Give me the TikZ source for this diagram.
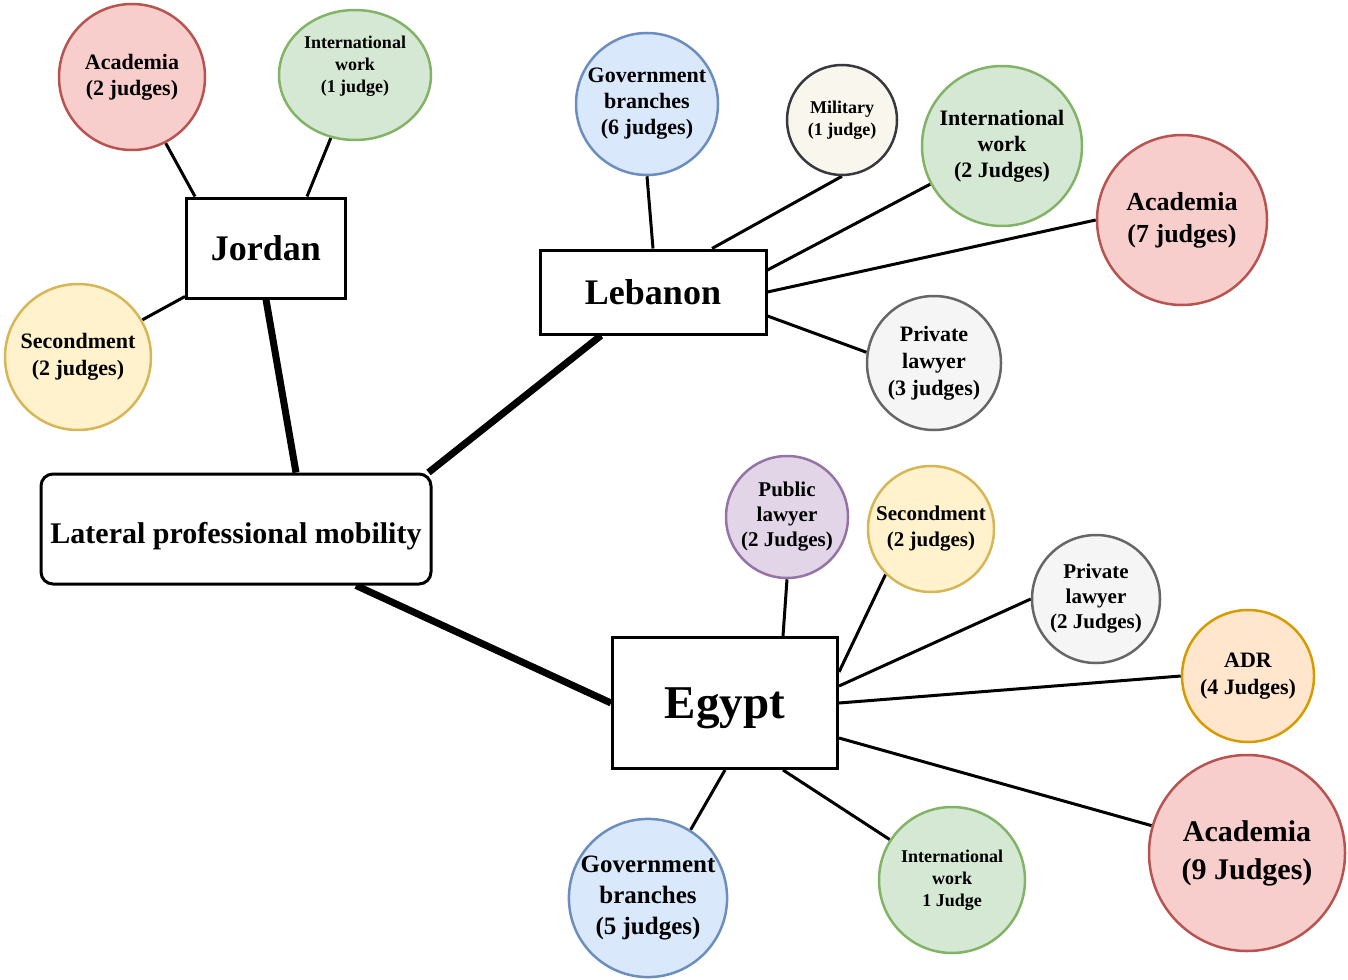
\documentclass[tikz,border=0pt]{standalone}
\usepackage{fontspec}
\setmainfont{Liberation Serif}
\usetikzlibrary{shapes.geometric,backgrounds}
\definecolor{acadfill}{HTML}{F8CECC}\definecolor{acadline}{HTML}{B85450}
\definecolor{intlfill}{HTML}{D5E8D4}\definecolor{intlline}{HTML}{82B366}
\definecolor{secfill}{HTML}{FFF2CC}\definecolor{secline}{HTML}{D6B656}
\definecolor{govfill}{HTML}{DAE8FC}\definecolor{govline}{HTML}{6C8EBF}
\definecolor{pubfill}{HTML}{E1D5E7}\definecolor{publine}{HTML}{9673A6}
\definecolor{adrfill}{HTML}{FFE6CC}\definecolor{adrline}{HTML}{D79B00}
\definecolor{privfill}{HTML}{F5F5F5}\definecolor{privline}{HTML}{666666}
\definecolor{milfill}{HTML}{F9F7ED}\definecolor{milline}{HTML}{36393D}
\begin{document}
\begin{tikzpicture}[x=1pt,y=-1pt,
  f/.style 2 args={font=\bfseries\fontsize{#1}{#2}\selectfont},
  box/.style={draw,line width=3pt,fill=white},
  bubble/.style={circle,draw,line width=2.5pt,inner sep=0pt,align=center},
  acad/.style={fill=acadfill,draw=acadline},
  intl/.style={fill=intlfill,draw=intlline},
  second/.style={fill=secfill,draw=secline},
  gov/.style={fill=govfill,draw=govline},
  pub/.style={fill=pubfill,draw=publine},
  adr/.style={fill=adrfill,draw=adrline},
  priv/.style={fill=privfill,draw=privline},
  mil/.style={fill=milfill,draw=milline},
  link/.style={line width=3pt},
  trunk/.style={line width=7pt}]
\useasboundingbox (0,0) rectangle (1348,979);
% countries
\node[box,rounded corners=12pt,minimum width=390,minimum height=110,text height=28pt,text depth=0pt,f={30}{36}] (lat) at (236,529) {Lateral professional mobility};
\node[box,minimum width=159,minimum height=100,f={36}{40}] (jor) at (266,248) {Jordan};
\node[box,minimum width=226,minimum height=84,f={36}{40}] (leb) at (653,292) {Lebanon};
\node[box,minimum width=225,minimum height=131,text depth=0pt,f={47}{52}] (egy) at (725,703) {Egypt};
% Jordan
\node[bubble,acad,minimum size=146,f={22}{26}] (jacad) at (132,77) {Academia\\(2 judges)};
\node[bubble,intl,ellipse,minimum width=152,minimum height=130,f={18}{22}] (jintl) at (355,75) {International\\work\\(1 judge)\\\mbox{}};
\node[bubble,second,minimum size=146,f={22}{27}] (jsec) at (78,357) {Secondment\\(2 judges)};
% Lebanon
\node[bubble,gov,minimum size=142,f={22}{26}] (lgov) at (647,104) {Government\\branches\\(6 judges)};
\node[bubble,mil,minimum size=110,f={18}{22}] (lmil) at (842,120) {Military\\(1 judge)};
\node[bubble,intl,minimum size=160,f={22}{26}] (lintl) at (1002,146) {International\\work\\(2 Judges)};
\node[bubble,acad,minimum size=170,f={26}{32}] (lacad) at (1182,220) {Academia\\(7 judges)};
\node[bubble,priv,minimum size=134,f={22}{27}] (lpriv) at (934,363) {Private\\lawyer\\(3 judges)};
% Egypt
\node[bubble,pub,minimum size=122,f={21}{25}] (epub) at (787,517) {Public\\lawyer\\(2 Judges)};
\node[bubble,second,minimum size=126,f={21}{26}] (esec) at (931,529) {Secondment\\(2 judges)};
\node[bubble,priv,minimum size=128,f={21}{25}] (epriv) at (1096,599) {Private\\lawyer\\(2 Judges)};
\node[bubble,adr,minimum size=132,f={22}{27}] (eadr) at (1248,676) {ADR\\(4 Judges)};
\node[bubble,acad,minimum size=196,f={30}{38}] (eacad) at (1247,853) {Academia\\(9 Judges)};
\node[bubble,intl,minimum size=146,f={18}{22}] (eintl) at (952,880) {International\\work\\1 Judge};
\node[bubble,gov,minimum size=158,f={25}{31}] (egov) at (648,898) {Government\\branches\\(5 judges)};
\begin{scope}[on background layer]
\draw[trunk] (jor.south) -- ([xshift=60pt]lat.north);
\draw[trunk] ([xshift=-52pt]leb.south) -- ([xshift=-4pt]lat.north east);
\draw[trunk] (egy.west) -- ([xshift=120pt]lat.south);
% Jordan links
\draw[link] (jacad.-63) -- ([xshift=10pt]jor.north west);
\draw[link] (jintl.-111) -- ([xshift=41pt]jor.north);
\draw[link] (jsec.30) -- ([yshift=3pt]jor.south west);
% Lebanon links
\draw[link] (lgov.south) -- (leb.north);
\draw[link] (lmil.south) -- ([xshift=59pt]leb.north);
\draw[link] (lintl.-152) -- ([yshift=22pt]leb.east);
\draw[link] (lacad.west) -- (leb.east);
\draw[link] (lpriv.171) -- ([yshift=-24pt]leb.east);
% Egypt links
\draw[link] (epub.south) -- ([xshift=58pt]egy.north);
\draw[link] (esec.-135) -- ([yshift=31pt]egy.east);
\draw[link] (epriv.west) -- ([yshift=17pt]egy.east);
\draw[link] (eadr.west) -- (egy.east);
\draw[link] (eacad.164) -- ([yshift=-35pt]egy.east);
\draw[link] (eintl.147) -- ([xshift=58pt]egy.south);
\draw[link] (egov.58) -- (egy.south);
\end{scope}
\end{tikzpicture}
\end{document}
